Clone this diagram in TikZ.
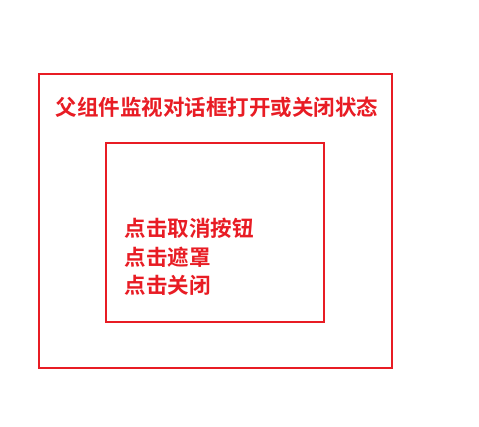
\documentclass[tikz,border=0pt]{standalone}
\usepackage{fontspec}
\newfontfamily\cjk{Noto Sans CJK SC}[BoldFont=* Bold]
\definecolor{boxred}{RGB}{232,28,36}
\tikzset{
  frame/.style={draw=boxred, line width=2pt},
  lbl/.style={font=\cjk\bfseries\fontsize{21.5}{24}\selectfont, text=boxred, inner sep=0pt},
}
\begin{document}
\begin{tikzpicture}[x=1pt,y=-1pt]
\useasboundingbox (0,0) rectangle (479,427);
\node[frame, minimum width=353pt, minimum height=294pt, anchor=north west, inner sep=0pt] (outer) at (38,73) {};
\node[frame, minimum width=218pt, minimum height=179pt, anchor=north west, inner sep=0pt] (inner) at (105,142) {};
\node[lbl] (title) at (217,107) {父组件监视对话框打开或关闭状态};
\node[lbl, anchor=west] (l1) at (124.5,228) {点击取消按钮};
\node[lbl, anchor=west] (l2) at (124.5,257) {点击遮罩};
\node[lbl, anchor=west] (l3) at (124.5,285) {点击关闭};
\end{tikzpicture}
\end{document}
